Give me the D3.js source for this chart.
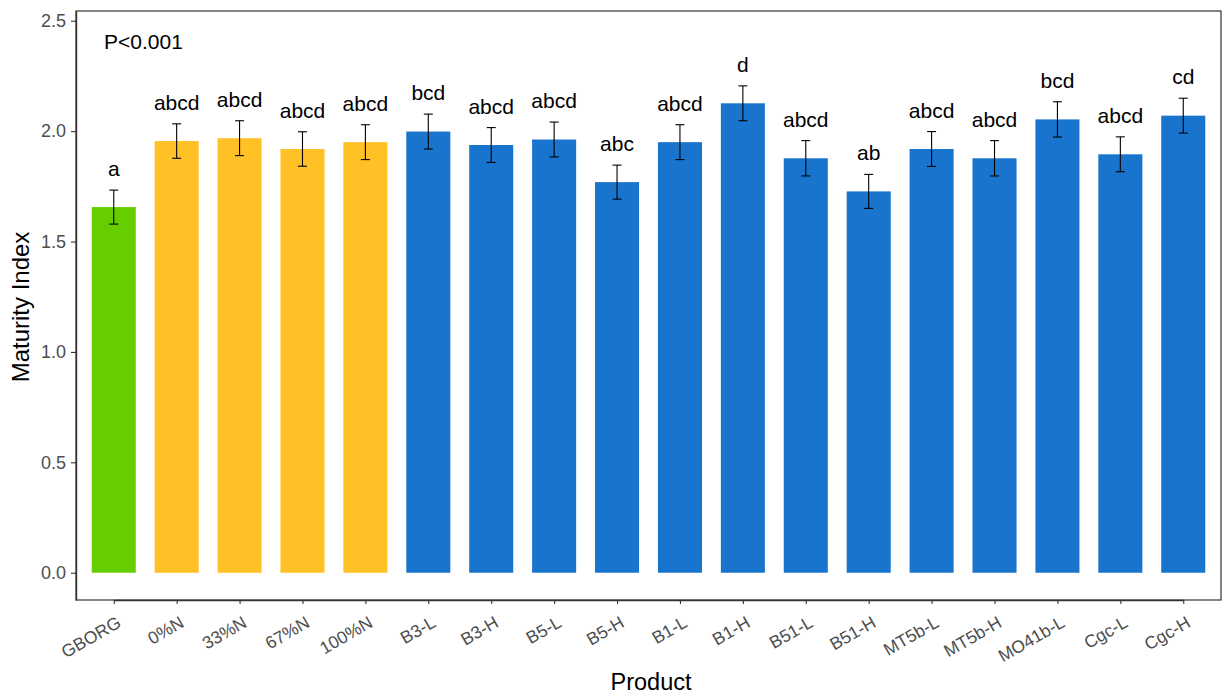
<!DOCTYPE html>
<html><head><meta charset="utf-8">
<script src="https://cdn.jsdelivr.net/npm/d3@7"></script>
<style>body{margin:0;background:#fff}svg{display:block}</style>
</head><body>
<svg id="c" width="1222" height="696"></svg>
<script>
const categories = ["GBORG","0%N","33%N","67%N","100%N","B3-L","B3-H","B5-L","B5-H","B1-L","B1-H","B51-L","B51-H","MT5b-L","MT5b-H","MO41b-L","Cgc-L","Cgc-H"];
const groups = ["org","urea","urea","urea","urea","bio","bio","bio","bio","bio","bio","bio","bio","bio","bio","bio","bio","bio"];
const means = [1.656,1.955,1.968,1.919,1.950,1.998,1.937,1.962,1.769,1.950,2.126,1.877,1.727,1.919,1.877,2.053,1.895,2.070];
const se = [0.077,0.078,0.079,0.078,0.079,0.079,0.079,0.079,0.077,0.079,0.079,0.080,0.077,0.079,0.080,0.080,0.079,0.079];
const letters = ["a","abcd","abcd","abcd","abcd","bcd","abcd","abcd","abc","abcd","d","abcd","ab","abcd","abcd","bcd","abcd","cd"];
const yTicks = [0,0.5,1.0,1.5,2.0,2.5];
const colors = {org:"#66CD00", urea:"#FFC125", bio:"#1874CD"};
const FONT = "Arial, 'Liberation Sans', sans-serif";

const svg = d3.select("#c");
const L = 76, R = 1221, T = 11, B = 600;
const step = (R - L) / (categories.length - 1 + 1.2);
const xc = d3.scalePoint().domain(categories).range([L + 0.6*step, R - 0.6*step]);
const bw = step * 0.7;
const y = d3.scaleLinear().domain([-0.1235, 2.544]).range([B, T]);

const g = svg.append("g");
g.selectAll("rect.bar").data(categories).join("rect")
  .attr("x", d => xc(d) - bw/2)
  .attr("width", bw)
  .attr("y", (d,i) => y(means[i]))
  .attr("height", (d,i) => y(0) - y(means[i]))
  .attr("fill", (d,i) => colors[groups[i]]);

const eb = g.selectAll("g.eb").data(categories).join("g");
const cap = 4.5;
eb.append("line").attr("x1", d => xc(d)).attr("x2", d => xc(d))
  .attr("y1", (d,i) => y(means[i]+se[i])).attr("y2", (d,i) => y(means[i]-se[i]))
  .attr("stroke", "#000").attr("stroke-width", 1.1);
eb.append("line").attr("x1", d => xc(d)-cap).attr("x2", d => xc(d)+cap)
  .attr("y1", (d,i) => y(means[i]+se[i])).attr("y2", (d,i) => y(means[i]+se[i]))
  .attr("stroke", "#000").attr("stroke-width", 1.1);
eb.append("line").attr("x1", d => xc(d)-cap).attr("x2", d => xc(d)+cap)
  .attr("y1", (d,i) => y(means[i]-se[i])).attr("y2", (d,i) => y(means[i]-se[i]))
  .attr("stroke", "#000").attr("stroke-width", 1.1);

g.selectAll("text.lab").data(categories).join("text")
  .attr("x", d => xc(d))
  .attr("y", (d,i) => y(means[i]+se[i]) - 14)
  .attr("text-anchor", "middle")
  .attr("font-family", FONT)
  .attr("font-size", 21).attr("fill", "#000")
  .text((d,i) => letters[i]);

svg.append("text").attr("x", 104).attr("y", 49)
  .attr("font-family", FONT)
  .attr("font-size", 21).attr("fill", "#000").text("P<0.001");

svg.append("rect").attr("x", L).attr("y", T).attr("width", R - L).attr("height", B - T)
  .attr("fill", "none").attr("stroke", "#333").attr("stroke-width", 1.2);

const yAxis = svg.append("g").attr("transform", `translate(${L},0)`)
  .call(d3.axisLeft(y).tickValues(yTicks).tickFormat(d3.format(".1f")).tickSize(5).tickSizeOuter(0).tickPadding(5));
yAxis.select(".domain").attr("stroke", "#333").attr("stroke-width", 1.4);
yAxis.selectAll(".tick line").attr("stroke", "#333").attr("stroke-width", 1.1);
yAxis.selectAll(".tick text").attr("font-family", FONT)
  .attr("font-size", 18).attr("fill", "#4d4d4d");

const xAxis = svg.append("g").attr("transform", `translate(0,${B})`)
  .call(d3.axisBottom(xc).tickSize(4).tickSizeOuter(0).tickPadding(4));
xAxis.select(".domain").attr("stroke", "#333").attr("stroke-width", 1.4);
xAxis.selectAll(".tick line").attr("stroke", "#333").attr("stroke-width", 1.1);
xAxis.selectAll(".tick text")
  .attr("font-family", FONT)
  .attr("font-size", 17.5).attr("fill", "#4d4d4d")
  .attr("text-anchor", "end").attr("dy", null).attr("y", 0)
  .attr("transform", "translate(8,26) rotate(-30)");

svg.append("text").attr("x", 651).attr("y", 690).attr("text-anchor", "middle")
  .attr("font-family", FONT)
  .attr("font-size", 23.5).attr("fill", "#000").text("Product");
svg.append("text").attr("transform", `translate(29,307) rotate(-90)`)
  .attr("text-anchor", "middle")
  .attr("font-family", FONT)
  .attr("font-size", 24).attr("fill", "#000").text("Maturity Index");
</script>
</body></html>
